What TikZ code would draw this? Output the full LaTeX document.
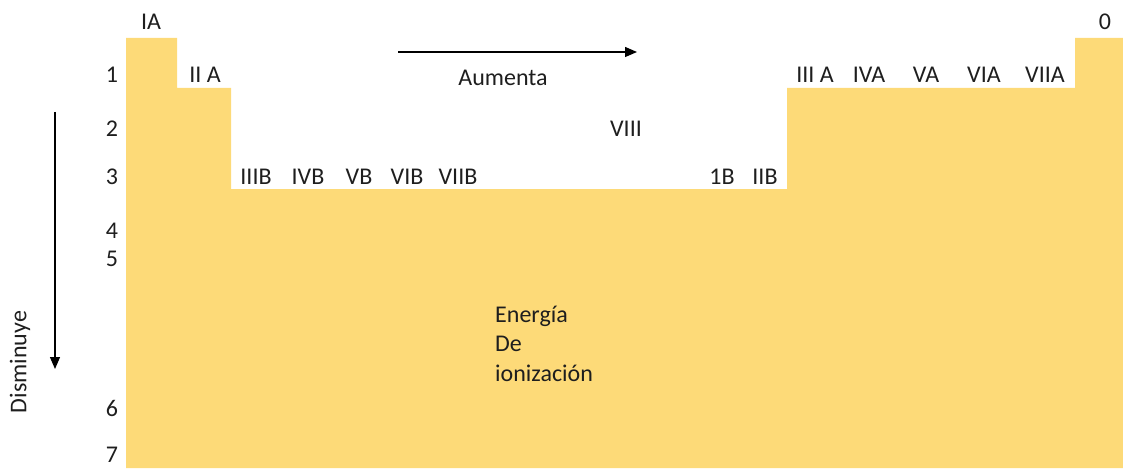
\documentclass[tikz,border=0pt]{standalone}
\usepackage{fontspec}
\setmainfont{Carlito}
\usetikzlibrary{arrows.meta}
\definecolor{gold}{HTML}{FDDA78}
\definecolor{ink}{HTML}{1E1E1E}
\begin{document}
\begin{tikzpicture}[x=1pt,y=-1pt,
  lbl/.style={inner sep=0pt,text=ink,font=\fontsize{24}{27}\selectfont},
  arr/.style={line width=1.3pt,-{Triangle[length=12pt,width=10pt]}}]
\useasboundingbox (0,0) rectangle (1123,468);
\fill[gold] (126,468) -- (126,38) -- (177,38) -- (177,88) -- (231,88) -- (231,189)
  -- (787,189) -- (787,88) -- (1075,88) -- (1075,38) -- (1123,38) -- (1123,468) -- cycle;
% row numbers
\node[lbl] (r1) at (112,75) {1};
\node[lbl] (r2) at (112,129) {2};
\node[lbl] (r3) at (112,177) {3};
\node[lbl] (r4) at (112,231) {4};
\node[lbl] (r5) at (112,259) {5};
\node[lbl] (r6) at (112,408) {6};
\node[lbl] (r7) at (112,455) {7};
% group labels
\node[lbl] (gIA) at (151,22) {IA};
\node[lbl] (g0) at (1105,22) {0};
\node[lbl] (gIIA) at (205,75) {II A};
\node[lbl] (gIIIA) at (815,75) {III A};
\node[lbl] (gIVA) at (869,75) {IVA};
\node[lbl] (gVA) at (926,75) {VA};
\node[lbl] (gVIA) at (984,75) {VIA};
\node[lbl] (gVIIA) at (1045,75) {VIIA};
\node[lbl] (gVIII) at (626,129) {VIII};
\node[lbl] (gIIIB) at (256,177) {IIIB};
\node[lbl] (gIVB) at (308,177) {IVB};
\node[lbl] (gVB) at (359,177) {VB};
\node[lbl] (gVIB) at (407,177) {VIB};
\node[lbl] (gVIIB) at (458,177) {VIIB};
\node[lbl] (g1B) at (722,177) {1B};
\node[lbl] (gIIB) at (765,177) {IIB};
% center text
\node[lbl,anchor=west] (t1) at (495,316) {Energía};
\node[lbl,anchor=west] (t2) at (495,344) {De};
\node[lbl,anchor=west] (t3) at (495,373) {ionización};
% arrows
\node[lbl] (aum) at (503,78) {Aumenta};
\coordinate (h1) at (398,52);
\coordinate (h2) at (637,52);
\draw[arr] (h1) -- (h2);
\coordinate (v1) at (55,112);
\coordinate (v2) at (55,369);
\draw[arr] (v1) -- (v2);
\node[lbl,rotate=90] (dis) at (20,362) {Disminuye};
\end{tikzpicture}
\end{document}
